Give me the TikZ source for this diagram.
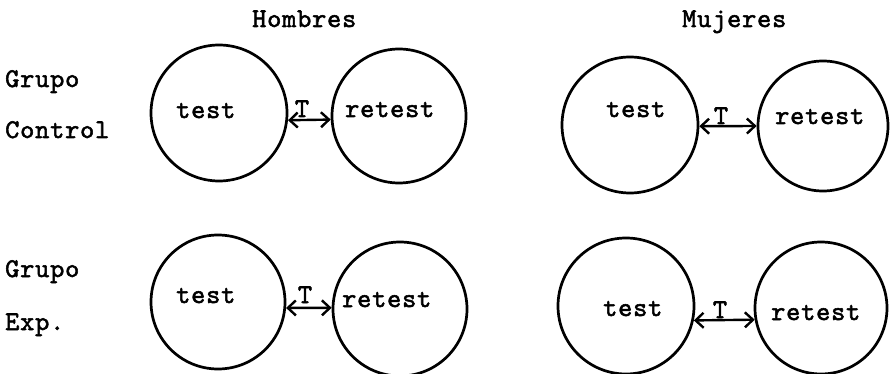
\documentclass[tikz,border=0pt]{standalone}
\usepackage{fontspec}
\newfontfamily\tw[Extension=.otf,FakeBold=2,LetterSpace=3]{lmmono10-regular}
\usetikzlibrary{arrows.meta}
\tikzset{
  ring/.style={circle,draw,line width=2.7pt,inner sep=0pt},
  txt/.style={font=\tw\fontsize{27}{27}\selectfont,anchor=base west,inner sep=0pt},
  tlab/.style={font=\tw\fontsize{27}{27}\selectfont,anchor=base,inner sep=0pt},
  link/.style={line width=2.4pt,{Straight Barb[length=8pt,width=15pt,line width=2.4pt]}-{Straight Barb[length=8pt,width=15pt,line width=2.4pt]}}
}
\begin{document}
\begin{tikzpicture}[x=1pt,y=-1pt]
\useasboundingbox (0,0) rectangle (891,374);
% headers
\node[txt] (hom) at (252,27) {Hombres};
\node[txt] (muj) at (682,27) {Mujeres};
% row labels
\node[txt] (g1) at (5,87) {Grupo};
\node[txt] (ctl) at (5,138) {Control};
\node[txt] (g2) at (5,277) {Grupo};
\node[txt] (exp) at (5,330) {Exp.};
% circles
\node[ring,minimum size=136pt] (t1) at (219,113) {};
\node[ring,minimum size=134pt] (r1) at (399,116) {};
\node[ring,minimum size=136pt] (t2) at (630,125) {};
\node[ring,minimum size=130pt] (r2) at (823,126) {};
\node[ring,minimum size=134pt] (t3) at (218,302) {};
\node[ring,minimum size=134pt] (r3) at (400,309) {};
\node[ring,minimum size=136pt] (t4) at (626,306) {};
\node[ring,minimum size=132pt] (r4) at (821,308) {};
% texts
\node[txt] (tt1) at (176,118) {test};
\node[txt] (rt1) at (345,117) {retest};
\node[txt] (tt2) at (606,117) {test};
\node[txt] (rt2) at (775,124) {retest};
\node[txt] (tt3) at (176,303) {test};
\node[txt] (rt3) at (342,307) {retest};
\node[txt] (tt4) at (603,316) {test};
\node[txt] (rt4) at (771,320) {retest};
% arrows
\draw[link] (t1.-6) -- (r1.-177);
\draw[link] (t2.-1) -- (r2.180);
\draw[link] (t3.-5) -- (r3.179);
\draw[link] (t4.-12) -- (r4.-170);
% T labels
\node[tlab] (T1) at (302,117) {T};
\node[tlab] (T2) at (721,124) {T};
\node[tlab] (T3) at (305,303) {T};
\node[tlab] (T4) at (720,318) {T};
\end{tikzpicture}
\end{document}
